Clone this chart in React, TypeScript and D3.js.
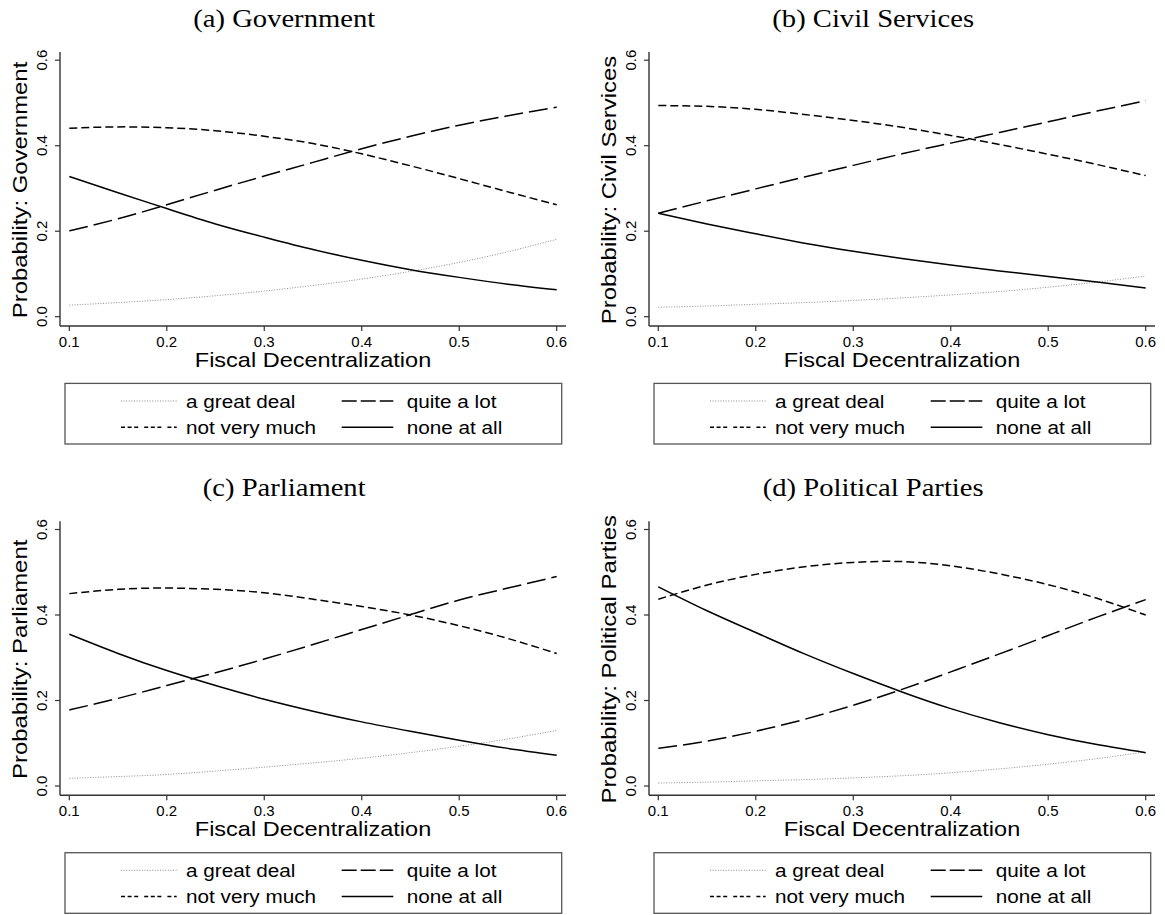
import React from 'react';
import * as d3 from 'd3';

const fiscal = [0.1, 0.15, 0.2, 0.25, 0.3, 0.35, 0.4, 0.45, 0.5, 0.55, 0.6];
const xTicks = [0.1, 0.2, 0.3, 0.4, 0.5, 0.6];
const yTicks = [0, 0.2, 0.4, 0.6];
const categories = ['a great deal', 'quite a lot', 'not very much', 'none at all'];

// (a) Government
const govGreat = [0.027, 0.033, 0.040, 0.049, 0.060, 0.073, 0.088, 0.106, 0.127, 0.152, 0.181];
const govQuite = [0.201, 0.229, 0.262, 0.296, 0.329, 0.361, 0.393, 0.422, 0.448, 0.470, 0.490];
const govNot = [0.441, 0.444, 0.442, 0.435, 0.422, 0.405, 0.381, 0.353, 0.323, 0.292, 0.262];
const govNone = [0.328, 0.290, 0.253, 0.217, 0.186, 0.157, 0.132, 0.110, 0.092, 0.076, 0.063];

// (b) Civil Services
const civGreat = [0.022, 0.025, 0.029, 0.033, 0.038, 0.044, 0.051, 0.059, 0.069, 0.081, 0.095];
const civQuite = [0.242, 0.271, 0.299, 0.327, 0.354, 0.381, 0.406, 0.431, 0.456, 0.481, 0.505];
const civNot = [0.494, 0.492, 0.485, 0.473, 0.459, 0.443, 0.424, 0.403, 0.380, 0.356, 0.330];
const civNone = [0.242, 0.217, 0.194, 0.172, 0.153, 0.136, 0.121, 0.107, 0.094, 0.081, 0.067];

// (c) Parliament
const parGreat = [0.018, 0.022, 0.027, 0.035, 0.044, 0.054, 0.065, 0.078, 0.093, 0.110, 0.130];
const parQuite = [0.178, 0.205, 0.235, 0.265, 0.297, 0.331, 0.366, 0.401, 0.435, 0.463, 0.490];
const parNot = [0.450, 0.460, 0.463, 0.460, 0.452, 0.437, 0.420, 0.400, 0.375, 0.345, 0.310];
const parNone = [0.355, 0.310, 0.270, 0.235, 0.203, 0.175, 0.150, 0.128, 0.107, 0.088, 0.072];

// (d) Political Parties
const polGreat = [0.007, 0.009, 0.012, 0.015, 0.019, 0.024, 0.031, 0.040, 0.051, 0.064, 0.080];
const polQuite = [0.088, 0.105, 0.128, 0.156, 0.189, 0.226, 0.267, 0.309, 0.352, 0.395, 0.436];
const polNot = [0.437, 0.470, 0.495, 0.513, 0.523, 0.525, 0.515, 0.496, 0.471, 0.439, 0.400];
const polNone = [0.466, 0.410, 0.359, 0.309, 0.263, 0.220, 0.181, 0.148, 0.120, 0.097, 0.078];

const panelTitles = ['(a) Government', '(b) Civil Services', '(c) Parliament', '(d) Political Parties'];
const panelYLabels = [
  'Probability: Government',
  'Probability: Civil Services',
  'Probability: Parliament',
  'Probability: Political Parties',
];
const panelSeries = [
  [govGreat, govQuite, govNot, govNone],
  [civGreat, civQuite, civNot, civNone],
  [parGreat, parQuite, parNot, parNone],
  [polGreat, polQuite, polNot, polNone],
];

const lineStyles = [
  { stroke: '#8c8c8c', width: 1, dash: '1,1.6' },
  { stroke: '#000', width: 1.5, dash: '19,6' },
  { stroke: '#000', width: 1.5, dash: '8,4' },
  { stroke: '#000', width: 1.5, dash: null as string | null },
];
const legendDash = ['1,1.6', '15,4', '4,2.6,4,2.6,4,6', null as string | null];

const DX = 589;
const DY = 469.3;
const SANS = '"Liberation Sans", Arial, Helvetica, sans-serif';
const SERIF = '"Liberation Serif", "Times New Roman", serif';

function Panel({ idx }: { idx: number }) {
  const ox = (idx % 2) * DX;
  const oy = Math.floor(idx / 2) * DY;
  const x = d3.scaleLinear().domain([0.1, 0.6]).range([69.3, 556.7]);
  const y = d3.scaleLinear().domain([0, 0.6]).range([316.7, 60.2]);
  const line = d3
    .line<[number, number]>()
    .x((d) => x(d[0]))
    .y((d) => y(d[1]))
    .curve(d3.curveNatural);
  const plotLeft = 60;
  const plotRight = 566;
  const plotTop = 52;
  const plotBottom = 326;
  const series = panelSeries[idx];

  const legRows = [
    [0, 1],
    [2, 3],
  ];
  const legLineX = [
    [121, 176.7],
    [341.7, 393.3],
  ];
  const legTextX = [186, 406.7];
  const legLineY = [401, 427.3];
  const legTextY = [407.6, 434];

  return (
    <g transform={`translate(${ox},${oy})`}>
      <text
        transform={`translate(284.2,26.7) scale(1.1,1)`}
        textAnchor="middle"
        fontFamily={SERIF}
        fontSize={26}
        fill="#000"
      >
        {panelTitles[idx]}
      </text>
      {/* axes */}
      <line x1={plotLeft} x2={plotLeft} y1={plotTop} y2={plotBottom} stroke="#333" strokeWidth={1.4} />
      <line x1={plotLeft} x2={plotRight} y1={plotBottom} y2={plotBottom} stroke="#333" strokeWidth={1.4} />
      {yTicks.map((t) => (
        <g key={'y' + t}>
          <line x1={plotLeft - 5} x2={plotLeft} y1={y(t)} y2={y(t)} stroke="#333" strokeWidth={1.2} />
          <text
            transform={`translate(46.7,${y(t)}) rotate(-90)`}
            textAnchor="middle"
            fontFamily={SANS}
            fontSize={15}
            fill="#000"
          >
            {d3.format('.1f')(t)}
          </text>
        </g>
      ))}
      {xTicks.map((t) => (
        <g key={'x' + t}>
          <line x1={x(t)} x2={x(t)} y1={plotBottom} y2={plotBottom + 5} stroke="#333" strokeWidth={1.2} />
          <text x={x(t)} y={346.5} textAnchor="middle" fontFamily={SANS} fontSize={15} fill="#000">
            {d3.format('.1f')(t)}
          </text>
        </g>
      ))}
      <text
        transform={`translate(${(x(0.1) + x(0.6)) / 2},367) scale(1.12,1)`}
        textAnchor="middle"
        fontFamily={SANS}
        fontSize={21}
        fill="#000"
      >
        Fiscal Decentralization
      </text>
      <text
        transform={`translate(27,${(plotTop + plotBottom) / 2 + 1}) rotate(-90) scale(1.14,1)`}
        textAnchor="middle"
        fontFamily={SANS}
        fontSize={21}
        fill="#000"
      >
        {panelYLabels[idx]}
      </text>
      {/* curves */}
      {series.map((vals, i) => {
        const pts = fiscal.map((f, k) => [f, vals[k]] as [number, number]);
        const st = lineStyles[i];
        return (
          <path
            key={'s' + i}
            d={line(pts) || ''}
            fill="none"
            stroke={st.stroke}
            strokeWidth={st.width}
            strokeDasharray={st.dash || undefined}
          />
        );
      })}
      {/* legend */}
      <rect x={65} y={383.4} width={496.7} height={60.6} fill="#fff" stroke="#555" strokeWidth={1.3} />
      {legRows.map((row, r) =>
        row.map((ci, c) => (
          <g key={'l' + ci}>
            <line
              x1={legLineX[c][0]}
              x2={legLineX[c][1]}
              y1={legLineY[r]}
              y2={legLineY[r]}
              stroke={lineStyles[ci].stroke}
              strokeWidth={lineStyles[ci].width}
              strokeDasharray={legendDash[ci] || undefined}
            />
            <text
              transform={`translate(${legTextX[c]},${legTextY[r]}) scale(1.12,1)`}
              fontFamily={SANS}
              fontSize={18.5}
              fill="#000"
            >
              {categories[ci]}
            </text>
          </g>
        ))
      )}
    </g>
  );
}

export default function App() {
  return (
    <svg
      width={1165}
      height={915}
      viewBox="0 0 1165 915"
      style={{ position: 'absolute', left: 0, top: 0, background: '#fff' }}
    >
      <rect x={0} y={0} width={1165} height={915} fill="#fff" />
      {[0, 1, 2, 3].map((i) => (
        <Panel key={i} idx={i} />
      ))}
    </svg>
  );
}
